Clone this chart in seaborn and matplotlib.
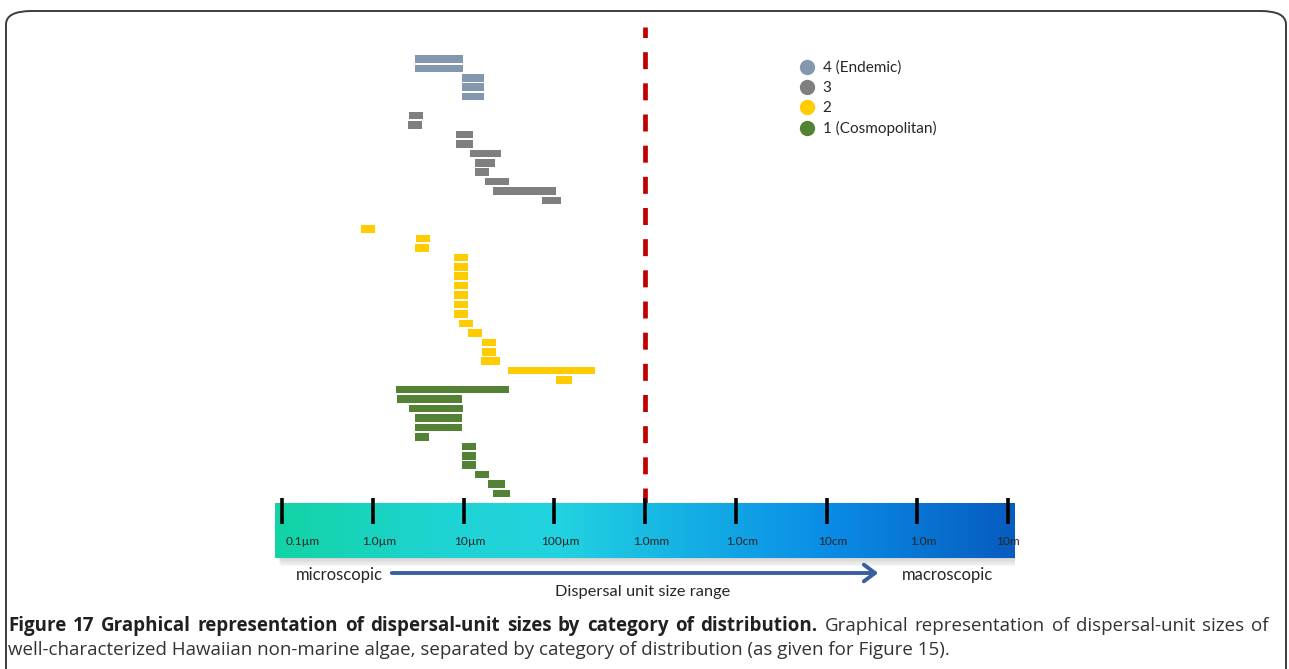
import numpy as np
import pandas as pd
import matplotlib
matplotlib.use("Agg")
import matplotlib.pyplot as plt
import seaborn as sns
from matplotlib.colors import LinearSegmentedColormap
from matplotlib.lines import Line2D
from matplotlib.patches import FancyBboxPatch, Rectangle

# dispersal-unit size ranges (micrometres), one bar per taxon, top to bottom
categories = ["4 (Endemic)", "3", "2", "1 (Cosmopolitan)"]
colors = ["#8497b0", "#7f7f7f", "#ffcc00", "#548235"]

endemic_lo = [2.9, 2.9, 9.6, 9.6, 9.6]
endemic_hi = [9.9, 9.9, 16.8, 16.8, 16.8]
cat3_lo = [2.5, 2.45, 8.3, 8.3, 11.8, 13.4, 13.4, 17.3, 21.1, 73]
cat3_hi = [3.6, 3.5, 12.7, 12.7, 25.9, 22.2, 19.1, 31.7, 104, 119]
cat2_lo = [0.74, 3.0, 2.9, 7.9, 7.9, 7.9, 7.9, 7.9, 7.9, 7.9, 8.9, 11.2, 16, 16, 15.6, 31, 104]
cat2_hi = [1.06, 4.3, 4.2, 11.2, 11.2, 11.2, 11.2, 11.2, 11.2, 11.2, 12.7, 16, 22.8, 22.8, 25.2, 281, 157]
cosmo_lo = [1.8, 1.85, 2.5, 2.9, 2.9, 2.9, 9.6, 9.6, 9.6, 13.4, 18.6, 21.1]
cosmo_hi = [31.7, 9.6, 9.9, 9.6, 9.6, 4.2, 13.7, 13.7, 13.7, 19.1, 28.7, 32.5]

scale_labels = ["0.1µm", "1.0µm", "10µm", "100µm", "1.0mm", "1.0cm", "10cm", "1.0m", "10m"]
scale_log = [-1, 0, 1, 2, 3, 4, 5, 6, 7]   # log10 of size in µm
threshold_um = 1000  # 1.0 mm

# build one table, rows counted downwards with blank rows between groups
blank_before = [0, 1, 2, 0]
frames = []
row = 0
for cat, lo, hi, gap in zip(categories, [endemic_lo, cat3_lo, cat2_lo, cosmo_lo],
                            [endemic_hi, cat3_hi, cat2_hi, cosmo_hi], blank_before):
    row += gap
    n = len(lo)
    frames.append(pd.DataFrame({"cat": cat, "row": np.arange(row, row + n),
                                "lo": np.log10(lo), "hi": np.log10(hi)}))
    row += n
df = pd.concat(frames, ignore_index=True)
df["span"] = df["hi"] - df["lo"]

sns.set_style("white")
plt.rcParams["font.family"] = ["Lato", "DejaVu Sans"]

W, H = 1289, 669
fig = plt.figure(figsize=(W / 100, H / 100), dpi=100)

px_dec = 90.75
xl = (-1 - 7 / px_dec, 7 + 7 / px_dec)

# main axes for the bars
ax = fig.add_axes([275 / W, 1 - 505 / H, 740 / W, (505 - 27) / H])
for cat, col in zip(categories, colors):
    d = df[df["cat"] == cat].sort_values("row")
    sns.barplot(data=d, x="span", y="row", orient="y", native_scale=True,
                color=col, saturation=1, width=0.8, errorbar=None,
                left=d["lo"].values, linewidth=0, ax=ax)
ax.set_xlim(*xl)
ax.set_ylim((505 - 58.85) / 9.45, (27 - 58.85) / 9.45)
ax.axvline(np.log10(threshold_um), color="#c00000", lw=3.4, dashes=(3.6, 3.0))
ax.set(xlabel="", ylabel="")
ax.axis("off")

handles = [Line2D([], [], marker="o", ls="", ms=10, color=c) for c in colors]
fig.legend(handles=handles, labels=categories, loc="upper left",
           bbox_to_anchor=(792 / W, 1 - 53 / H), frameon=False, fontsize=11,
           handlelength=1.0, handletextpad=0.5, labelspacing=0.4, borderpad=0)

# gradient size scale
ax2 = fig.add_axes([275 / W, 1 - 566 / H, 740 / W, 70 / H])
ax2.set_xlim(*xl)
ax2.set_ylim(0, 1)
ax2.axis("off")
cmap = LinearSegmentedColormap.from_list(
    "scale", [(0, "#12d3a4"), (0.22, "#1ed4d2"), (0.38, "#22d3e0"),
              (0.55, "#15b2e4"), (0.75, "#0a8ce6"), (1.0, "#075cc0")])
for k in range(6):
    ax2.add_patch(Rectangle((xl[0] + 0.01 + 0.012 * k, 0.12 - 0.025 * k),
                            xl[1] - xl[0], 0.78, color="#000000",
                            alpha=0.035, lw=0, zorder=0))
ax2.imshow(np.linspace(0, 1, 256)[None, :], cmap=cmap, aspect="auto",
           extent=(xl[0], xl[1], 0.11, 0.89), zorder=1)
ax2.vlines(scale_log, 0.6, 0.97, color="black", lw=2.6, zorder=2)
for i, (v, lab) in enumerate(zip(scale_log, scale_labels)):
    if i == 0:
        ax2.text(v + 0.035, 0.35, lab, ha="left", va="center", fontsize=8.6, zorder=3)
    elif i == len(scale_labels) - 1:
        ax2.text(v, 0.35, lab, ha="center", va="center", fontsize=8.6, zorder=3)
    else:
        ax2.text(v + 0.07, 0.35, lab, ha="center", va="center", fontsize=8.6, zorder=3)

# range arrow and labels
fig.text(296 / W, 1 - 575 / H, "microscopic", ha="left", va="center", fontsize=12)
fig.text(902 / W, 1 - 575 / H, "macroscopic", ha="left", va="center", fontsize=12)
fig.text(643 / W, 1 - 592 / H, "Dispersal unit size range", ha="center",
         va="center", fontsize=11.8)
fig.add_artist(matplotlib.patches.FancyArrowPatch(
    (389 / W, 1 - 573 / H), (881 / W, 1 - 573 / H), transform=fig.transFigure,
    arrowstyle="->,head_length=8,head_width=6", color="#3a5ea4", lw=2.8))

# rounded frame, open at the bottom
fig.add_artist(FancyBboxPatch((6 / W, -0.2), 1280 / W, 1.2 - 11 / H,
                              boxstyle="round,pad=0,rounding_size=0.02",
                              transform=fig.transFigure, fill=False,
                              ec="#3c3c3c", lw=1.4))

# caption: first line justified (bold lead + regular), second line ragged
cap_font = ["Open Sans", "DejaVu Sans"]
cap_size = 13.5
bold = "Figure 17 Graphical representation of dispersal-unit sizes by category of distribution."
rest = "Graphical representation of dispersal-unit sizes of"
line2 = "well-characterized Hawaiian non-marine algae, separated by category of distribution (as given for Figure 15)."

words = [(w, True) for w in bold.split()] + [(w, False) for w in rest.split()]
arts = [fig.text(0, 1 - 626 / H, w, ha="left", va="center", fontsize=cap_size,
                 fontweight="bold" if b else "normal",
                 color="#231f20" if b else "#333333", family=cap_font)
        for w, b in words]
fig.canvas.draw()
widths = [a.get_window_extent().width for a in arts]
x0, x1 = 8, 1268
space = (x1 - x0 - sum(widths)) / (len(arts) - 1)
x = x0
for a, w in zip(arts, widths):
    a.set_x(x / W)
    x += w + space
fig.text(8 / W, 1 - 650 / H, line2, ha="left", va="center", fontsize=cap_size,
         color="#333333", family=cap_font)

fig.savefig("out.png", dpi=100)
